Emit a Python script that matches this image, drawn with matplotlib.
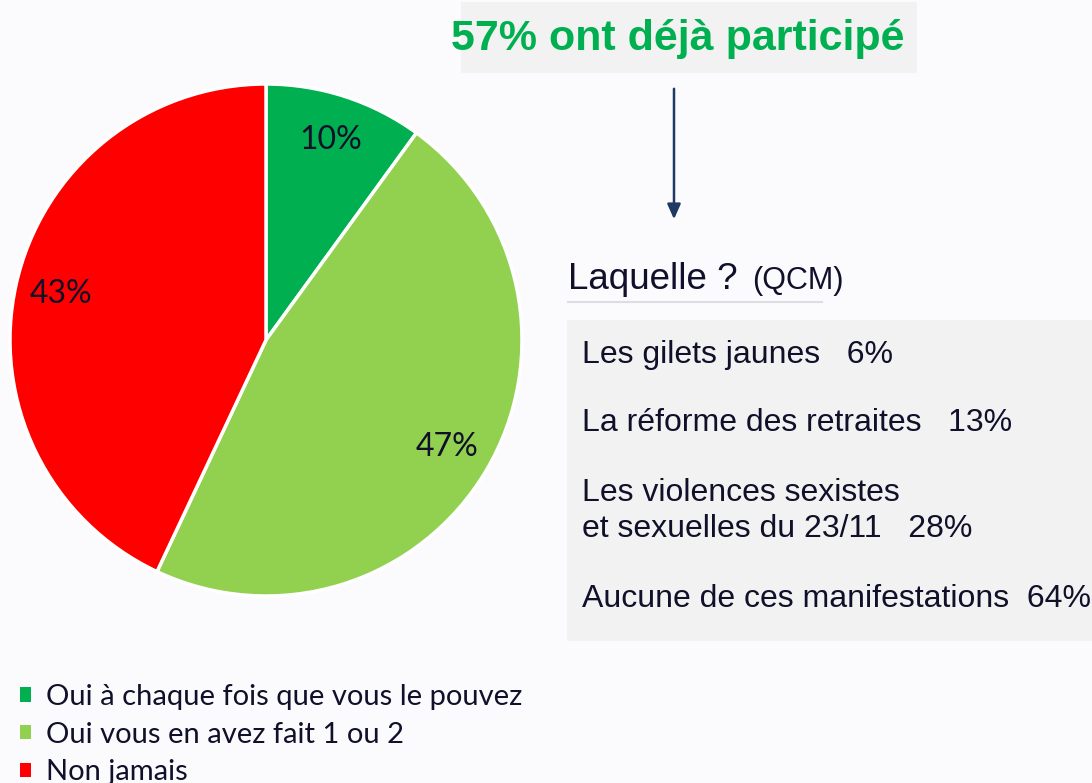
import matplotlib
matplotlib.use("Agg")
import matplotlib.pyplot as plt
import matplotlib.patches as patches

#____________________________________________________________________________________________________
# data
pie_labels = ["Oui à chaque fois que vous le pouvez", "Oui vous en avez fait 1 ou 2", "Non jamais"]
pie_values = [10, 47, 43]
pie_colors = ["#00B050", "#92D050", "#FF0000"]

headline = "57% ont déjà participé"
qcm_items = ["Les gilets jaunes", "La réforme des retraites",
             "Les violences sexistes\net sexuelles du 23/11", "Aucune de ces manifestations"]
qcm_values = [6, 13, 28, 64]
qcm_gaps = ["   ", "   ", "   ", "  "]

W, H = 1092, 783
BG = "#FBFBFE"
TXT = "#10102A"

def Y(y):
    # image pixel row -> data y (origin bottom)
    return H - y

#____________________________________________________________________________________________________
# figure
fig = plt.figure(figsize=(W / 100, H / 100), dpi=100, facecolor=BG)
ax = fig.add_axes([0, 0, 1, 1])
ax.set_xlim(0, W)
ax.set_ylim(0, H)
ax.set_aspect("equal")
ax.axis("off")

wedges, _, autotexts = ax.pie(pie_values, colors=pie_colors, startangle=90, counterclock=False,
                              center=(266, Y(340)), radius=256, autopct="%d%%", pctdistance=0.82,
                              wedgeprops=dict(edgecolor="white", linewidth=2.5),
                              textprops=dict(fontsize=23, color=TXT, family="Lato"))
ax.set_xlim(0, W)
ax.set_ylim(0, H)

# legend with plain square handles
handles = [patches.Patch(facecolor=c, edgecolor="none", linewidth=0) for c in pie_colors]
leg = ax.legend(handles, pie_labels, loc="upper left", bbox_to_anchor=(20 / W, Y(684) / H),
                frameon=False, handlelength=0.38, handleheight=0.38, handletextpad=0.5,
                labelspacing=0.4, borderpad=0, borderaxespad=0, prop=dict(family="Lato", size=21))
for t in leg.get_texts():
    t.set_color(TXT)

# headline box
ax.add_patch(patches.Rectangle((461, Y(73)), 456, 71, facecolor="#F2F2F2", edgecolor="none"))
ax.text(678, Y(39), headline, ha="center", va="center", fontsize=31, fontweight="bold",
        color="#00B050", family="Liberation Sans")

# arrow
ax.annotate("", xy=(674, Y(222)), xytext=(674, Y(86)),
            arrowprops=dict(arrowstyle="-|>,head_length=0.9,head_width=0.4", color="#1F3864", lw=1.8))

# QCM heading
ax.text(568, Y(289), "Laquelle ?", ha="left", va="baseline", fontsize=26.5,
        color=TXT, family="Liberation Sans")
ax.text(752, Y(289), "(QCM)", ha="left", va="baseline", fontsize=22,
        color=TXT, family="Liberation Sans")
ax.plot([568, 822], [Y(302), Y(302)], color="#DDDDE3", lw=1.5)

# QCM box
ax.add_patch(patches.Rectangle((567, Y(641)), 530, 321, facecolor="#F2F2F2", edgecolor="none"))
rows_y = [355, 423, 511, 599]
for item, val, gap, yy in zip(qcm_items, qcm_values, qcm_gaps, rows_y):
    ax.text(582, Y(yy), "{}{}{}%".format(item, gap, val), ha="left", va="center",
            fontsize=23, color=TXT, family="Liberation Sans", linespacing=1.28)

fig.savefig("out.png", dpi=100, facecolor=BG)
